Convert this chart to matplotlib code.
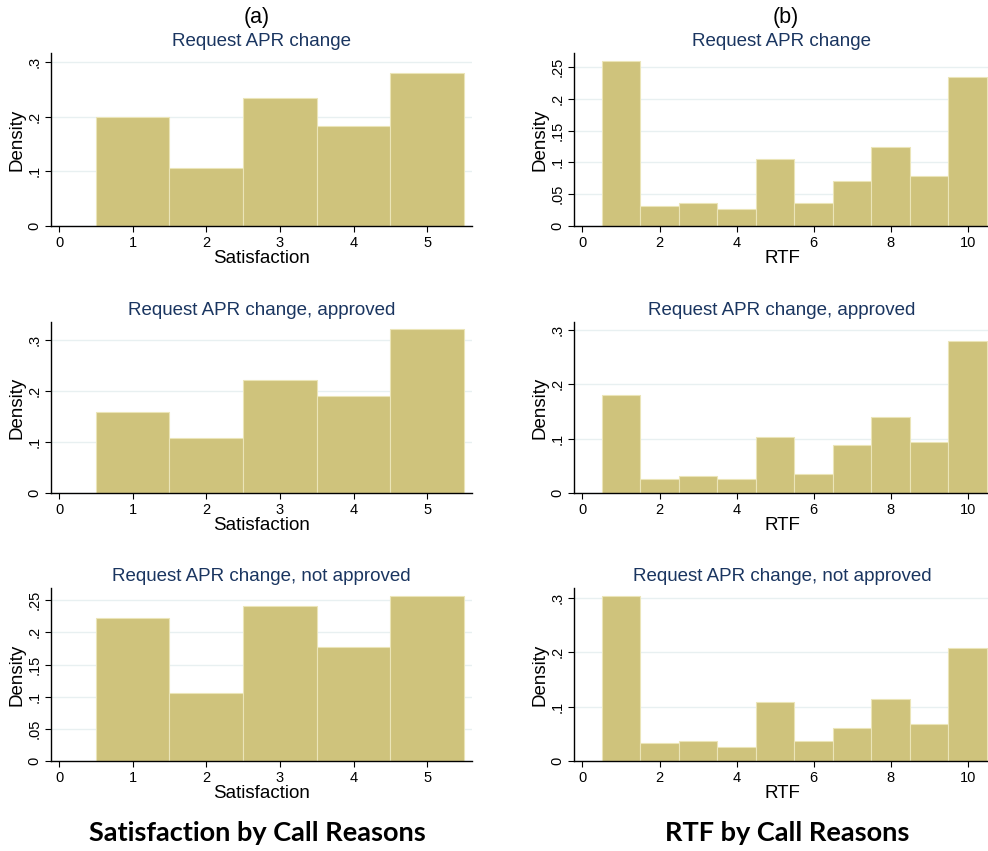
import matplotlib
matplotlib.use('Agg')
import matplotlib.pyplot as plt

# 数据：各面板的直方图密度
sat_bins = [1, 2, 3, 4, 5]
rtf_bins = [1, 2, 3, 4, 5, 6, 7, 8, 9, 10]

sat_all = [0.200, 0.106, 0.234, 0.183, 0.280]
sat_approved = [0.158, 0.108, 0.222, 0.191, 0.321]
sat_not_approved = [0.222, 0.105, 0.241, 0.177, 0.257]

rtf_all = [0.259, 0.031, 0.036, 0.026, 0.106, 0.036, 0.071, 0.124, 0.078, 0.234]
rtf_approved = [0.180, 0.026, 0.031, 0.026, 0.103, 0.034, 0.089, 0.139, 0.093, 0.280]
rtf_not_approved = [0.304, 0.033, 0.037, 0.025, 0.109, 0.036, 0.061, 0.115, 0.069, 0.208]

subtitles = ['Request APR change', 'Request APR change, approved',
             'Request APR change, not approved']

sat_yticks = [[0, 0.1, 0.2, 0.3], [0, 0.1, 0.2, 0.3], [0, 0.05, 0.1, 0.15, 0.2, 0.25]]
rtf_yticks = [[0, 0.05, 0.1, 0.15, 0.2, 0.25], [0, 0.1, 0.2, 0.3], [0, 0.1, 0.2, 0.3]]

BAR_COLOR = '#cfc37c'
EDGE_COLOR = '#ebe5b8'
TITLE_COLOR = '#1a3560'
GRID_COLOR = '#e8f0f1'

W, H = 988, 851
plt.rcParams['font.family'] = ['Liberation Sans', 'DejaVu Sans']


def fmt_tick(v):
    """Stata风格的刻度标签：.1 .05 0"""
    if v == 0:
        return '0'
    s = ('%.2f' % v).rstrip('0')
    return s.lstrip('0')


def add_axes_px(fig, left, right, top, bottom):
    return fig.add_axes([left / W, 1 - bottom / H, (right - left) / W, (bottom - top) / H])


def draw_hist(ax, bins, values, yticks, ymax, xlim, xticks, xlabel, title):
    ax.bar(bins, values, width=1.0, color=BAR_COLOR, edgecolor=EDGE_COLOR,
           linewidth=0.8, zorder=2)
    ax.set_xlim(*xlim)
    ax.set_ylim(0, ymax)
    ax.set_yticks(yticks)
    ax.set_yticklabels([fmt_tick(v) for v in yticks], rotation=90, va='center', fontsize=10.5)
    ax.set_xticks(xticks)
    ax.set_xticklabels([str(t) for t in xticks], fontsize=10.5)
    ax.yaxis.grid(True, color=GRID_COLOR, linewidth=1.0, zorder=0)
    ax.set_axisbelow(True)
    for side in ['top', 'right']:
        ax.spines[side].set_visible(False)
    ax.spines['left'].set_linewidth(1.0)
    ax.spines['bottom'].set_linewidth(1.0)
    ax.tick_params(direction='out', length=4, width=0.8, pad=3)
    ax.set_xlabel(xlabel, fontsize=13.5, labelpad=0)
    ax.set_ylabel('Density', fontsize=13.5, labelpad=1)
    ax.set_title(title, fontsize=13.5, color=TITLE_COLOR, pad=5)


def main():
    fig = plt.figure(figsize=(W / 100, H / 100), dpi=100)

    rows = [(53, 226), (322, 493), (588, 761)]
    sat_data = [sat_all, sat_approved, sat_not_approved]
    rtf_data = [rtf_all, rtf_approved, rtf_not_approved]
    sat_ymax = [0.317, 0.335, 0.269]
    rtf_ymax = [0.272, 0.314, 0.3185]

    for i, (top, bottom) in enumerate(rows):
        ax_l = add_axes_px(fig, 51, 472, top, bottom)
        draw_hist(ax_l, sat_bins, sat_data[i], sat_yticks[i], sat_ymax[i],
                  (-0.11, 5.61), [0, 1, 2, 3, 4, 5], 'Satisfaction', subtitles[i])
        ax_r = add_axes_px(fig, 574, 990, top, bottom)
        draw_hist(ax_r, rtf_bins, rtf_data[i], rtf_yticks[i], rtf_ymax[i],
                  (-0.22, 10.58), [0, 2, 4, 6, 8, 10], 'RTF', subtitles[i])

    fig.text(257 / W, 1 - 17 / H, '(a)', ha='center', va='center', fontsize=15.5)
    fig.text(786 / W, 1 - 17 / H, '(b)', ha='center', va='center', fontsize=15.5)

    fig.text(257 / W, 1 - 833 / H, 'Satisfaction by Call Reasons', ha='center',
             va='center', fontsize=19.5, fontweight='bold', family='Lato')
    fig.text(787 / W, 1 - 833 / H, 'RTF by Call Reasons', ha='center',
             va='center', fontsize=19.5, fontweight='bold', family='Lato')

    fig.savefig('out.png', dpi=100, facecolor='white')


if __name__ == '__main__':
    main()
